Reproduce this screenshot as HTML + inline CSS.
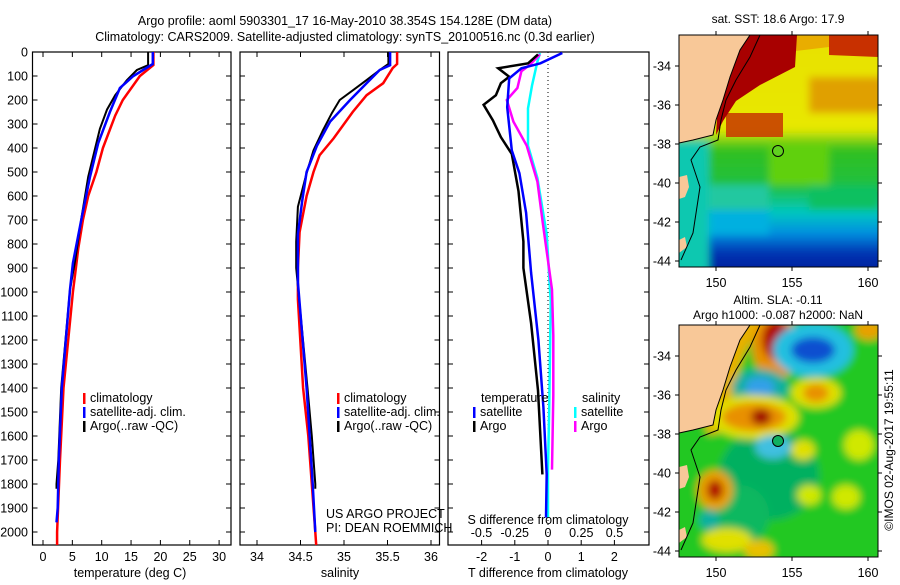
<!DOCTYPE html>
<html><head><meta charset="utf-8"><style>
html,body{margin:0;padding:0;background:#fff;}
svg text{font-family:"Liberation Sans",sans-serif;font-size:12.5px;fill:#000;}
</style></head><body>
<svg id="fig" width="900" height="580" viewBox="0 0 900 580" xmlns="http://www.w3.org/2000/svg">
<defs>
<filter id="blur" x="-20%" y="-20%" width="140%" height="140%"><feGaussianBlur stdDeviation="4"/></filter>
<clipPath id="clipTop"><rect x="679" y="35" width="199" height="232"/></clipPath>
<clipPath id="clipBot"><rect x="679" y="325" width="199" height="232"/></clipPath>
<linearGradient id="sstGrad" x1="0" y1="0" x2="0" y2="1">
<stop offset="0" stop-color="#e8e000"/><stop offset="0.40" stop-color="#e8e800"/>
<stop offset="0.48" stop-color="#30c020"/><stop offset="0.62" stop-color="#20c040"/>
<stop offset="0.72" stop-color="#00c8c0"/><stop offset="0.80" stop-color="#0090e0"/>
<stop offset="0.88" stop-color="#0030b0"/><stop offset="1" stop-color="#001890"/>
</linearGradient>
</defs>
<g>
<text x="345" y="25" text-anchor="middle">Argo profile: aoml 5903301_17 16-May-2010 38.354S 154.128E (DM data)</text>
<text x="345" y="41" text-anchor="middle">Climatology: CARS2009. Satellite-adjusted climatology: synTS_20100516.nc (0.3d earlier)</text>
</g>
<g id="panels"></g>

<text x="778" y="23" text-anchor="middle" style="font-size:12px">sat. SST: 18.6 Argo: 17.9</text>
<g clip-path="url(#clipTop)">
<g transform="translate(679,35)">
<g filter="url(#blur)">
<rect x="-10" y="-10" width="220" height="260" fill="url(#sstGrad)"/>
<rect x="-10" y="105" width="40" height="140" fill="#10c8b0"/>
<rect x="130" y="42" width="75" height="36" fill="#e0a000"/>
<rect x="90" y="110" width="60" height="40" fill="#60d010"/>
<rect x="30" y="150" width="60" height="30" fill="#20c8a0"/>
<rect x="130" y="150" width="70" height="25" fill="#10c060"/>
<rect x="30" y="175" width="60" height="25" fill="#00b0e0"/>
</g>
<polygon points="100,0 150,0 150,12 100,18" fill="#e8a000" opacity="0.8"/>
<polygon points="47,78 104,78 104,102 47,102" fill="#c84000" opacity="0.9"/>
<polygon points="50,0 118,0 116,32 81,50 57,66 44,86 37,100 40,50" fill="#a80000"/>
<polygon points="150,0 199,0 199,22 150,20" fill="#c83000"/>
<polygon points="0,0 71,0 61,15 51,42 44,65 37,85 34,100 14,105 0,108" fill="#f8c898"/>
<polygon points="0,142 8,140 10,152 6,162 0,164" fill="#f8c898"/>
<polygon points="0,205 6,202 8,212 0,218" fill="#f8c898"/>
<polyline points="81,0 71,22 57,45 47,65 42,85 39,105 21,112 12,125 21,152 14,198 2,225" fill="none" stroke="#000" stroke-width="1"/>
<polyline points="71,0 61,15 51,42 44,65 37,85 34,100 14,105 0,108" fill="none" stroke="#000" stroke-width="1"/>
</g>
</g>
<rect x="679" y="35" width="199" height="232" fill="none" stroke="#000" stroke-width="1"/>
<circle cx="778" cy="151" r="5.5" fill="#60d020" stroke="#000" stroke-width="1"/>

<text x="778" y="304" text-anchor="middle" style="font-size:12px">Altim. SLA: -0.11</text>
<text x="778" y="319" text-anchor="middle" style="font-size:12px">Argo h1000: -0.087 h2000: NaN</text>
<g clip-path="url(#clipBot)">
<g transform="translate(679,325)">
<g filter="url(#blur)">
<rect x="-10" y="-10" width="220" height="260" fill="#20c820"/>
<ellipse cx="90" cy="150" rx="50" ry="45" fill="#00b060"/>
<ellipse cx="60" cy="190" rx="30" ry="30" fill="#10b860"/>
<polygon points="55,-10 85,-10 65,30 55,60 50,90 48,105 30,110 25,100 40,60" fill="#e8b000"/>
<ellipse cx="97" cy="22" rx="24" ry="32" fill="#e89000"/>
<ellipse cx="97" cy="15" rx="14" ry="20" fill="#b00000"/>
<ellipse cx="134" cy="25" rx="40" ry="27" fill="#20c0e0"/>
<ellipse cx="134" cy="25" rx="22" ry="13" fill="#1050d0"/>
<ellipse cx="190" cy="5" rx="14" ry="10" fill="#e8a000"/>
<ellipse cx="81" cy="62" rx="28" ry="18" fill="#10b0a0"/>
<ellipse cx="81" cy="62" rx="15" ry="10" fill="#30a0e8"/>
<ellipse cx="75" cy="92" rx="45" ry="22" fill="#e0e000"/>
<ellipse cx="75" cy="92" rx="32" ry="14" fill="#e89000"/>
<ellipse cx="82" cy="92" rx="10" ry="8" fill="#a00000"/>
<ellipse cx="137" cy="68" rx="25" ry="15" fill="#e0e000"/>
<ellipse cx="137" cy="68" rx="13" ry="9" fill="#e89000"/>
<ellipse cx="94" cy="122" rx="18" ry="12" fill="#40c0e0"/>
<ellipse cx="36" cy="165" rx="18" ry="20" fill="#e8a000"/>
<ellipse cx="36" cy="165" rx="8" ry="10" fill="#b00000"/>
<ellipse cx="124" cy="125" rx="12" ry="10" fill="#e0e000"/>
<ellipse cx="167" cy="172" rx="14" ry="12" fill="#d0e800"/>
<ellipse cx="130" cy="170" rx="12" ry="10" fill="#d0e800"/>
<ellipse cx="48" cy="215" rx="25" ry="12" fill="#e0e000"/>
<ellipse cx="80" cy="225" rx="15" ry="10" fill="#e8c000"/>
<ellipse cx="180" cy="120" rx="15" ry="15" fill="#d0e800"/>
<ellipse cx="30" cy="195" rx="10" ry="10" fill="#10b0a0"/>
</g>
<polygon points="0,0 71,0 61,15 51,42 44,65 37,85 34,100 14,105 0,108" fill="#f8c898"/>
<polygon points="0,142 8,140 10,152 6,162 0,164" fill="#f8c898"/>
<polygon points="0,205 6,202 8,212 0,218" fill="#f8c898"/>
<polyline points="81,0 71,22 57,45 47,65 42,85 39,105 21,112 12,125 21,152 14,198 2,225" fill="none" stroke="#000" stroke-width="1"/>
<polyline points="71,0 61,15 51,42 44,65 37,85 34,100 14,105 0,108" fill="none" stroke="#000" stroke-width="1"/>
</g>
</g>
<rect x="679" y="325" width="199" height="232" fill="none" stroke="#000" stroke-width="1"/>
<circle cx="778" cy="441" r="5.5" fill="#10b060" stroke="#000" stroke-width="1"/>
<text transform="translate(893,450) rotate(-90)" text-anchor="middle" style="font-size:12px">©IMOS 02-Aug-2017 19:55:11</text>
<g id="mapaxes"></g>
</svg>
<script>
const depthTicks = [0,100,200,300,400,500,600,700,800,900,1000,1100,1200,1300,1400,1500,1600,1700,1800,1900,2000];
const tempTicks = [0,5,10,15,20,25,30];
const salTicks = [34,34.5,35,35.5,36];
const tdiffTicks = [-2,-1,0,1,2];
const sdiffTicks = [-0.5,-0.25,0,0.25,0.5];
const sdiffTickLabels = ["-0.5","-0.25","0","0.25","0.5"];

const tClimDepth = [0,54,100,200,265,400,500,600,700,820,920,1000,1400,1700,2000,2054];
const tClimVal   = [18.8,18.8,16.5,13.6,12.3,10.2,9.1,7.7,6.8,6.0,5.5,5.1,3.5,2.9,2.4,2.4];
const tSatDepth  = [0,50,100,150,250,380,520,690,880,990,1400,1700,1900,1960];
const tSatVal    = [18.7,18.7,15.4,13.1,11.4,9.4,8.0,6.6,5.1,4.6,3.2,2.7,2.5,2.3];
const tArgoDepth = [0,55,75,117,180,240,320,400,520,685,865,990,1400,1700,1800,1820];
const tArgoVal   = [17.9,17.9,16.0,14.3,12.3,10.9,9.7,8.9,7.7,6.6,5.5,4.6,3.1,2.6,2.3,2.3];

const sClimDepth = [0,50,67,130,180,250,360,430,500,600,750,900,1030,1400,1600,1800,2000,2054];
const sClimVal   = [35.61,35.61,35.56,35.45,35.26,35.10,34.88,34.72,34.65,34.57,34.49,34.47,34.47,34.53,34.59,34.63,34.67,34.68];
const sSatDepth  = [0,55,75,130,200,290,390,500,620,760,960,1400,1800,2000];
const sSatVal    = [35.53,35.53,35.41,35.26,35.07,34.84,34.69,34.57,34.52,34.47,34.47,34.57,34.64,34.67];
const sArgoDepth = [0,50,75,117,160,200,255,325,410,505,645,790,900,1400,1600,1800,1820];
const sArgoVal   = [35.51,35.51,35.41,35.26,35.10,34.95,34.86,34.76,34.65,34.57,34.47,34.45,34.45,34.58,34.63,34.67,34.67];

const dTSatDepth = [4,47,68,110,230,410,505,670,920,1200,1480,1760,1940];
const dTSatVal   = [0.43,-0.23,-0.8,-1.17,-1.23,-1.09,-0.86,-0.66,-0.51,-0.29,-0.14,-0.04,-0.06];
const dTArgoDepth = [10,47,68,103,130,180,220,285,355,425,580,790,900,1130,1410,1760];
const dTArgoVal   = [-0.3,-0.6,-1.5,-1.17,-1.42,-1.57,-1.94,-1.66,-1.42,-1.09,-0.89,-0.74,-0.74,-0.51,-0.3,-0.17];
const dSSatDepth = [4,40,140,235,390,525,760,1040,1460,1740,1940];
const dSSatVal   = [-0.06,-0.08,-0.12,-0.15,-0.15,-0.08,-0.01,0.02,0.01,0.0,0.0];
const dSArgoDepth = [10,55,80,150,200,290,390,540,710,990,1180,1430,1740];
const dSArgoVal   = [-0.06,-0.14,-0.2,-0.23,-0.31,-0.26,-0.16,-0.08,-0.04,0.03,0.04,0.04,0.03];

const latTicks = [-34,-36,-38,-40,-42,-44];
const lonTicks = [150,155,160];

const NS='http://www.w3.org/2000/svg';
const yD = d => 52 + d*0.24;
const xT = t => 43 + t*5.87;
const xS = s => 257 + (s-34)*87;
const xDT = t => 548 + t*33.2;
const xDS = s => 548 + s*133;
const pTop=52, pBot=545;
const root=document.getElementById('panels');
function el(tag,attrs,parent){const e=document.createElementNS(NS,tag);for(const k in attrs)e.setAttribute(k,attrs[k]);(parent||root).appendChild(e);return e;}
function txt(x,y,s,anchor,parent){const t=el('text',{x:x,y:y,'text-anchor':anchor||'start'},parent);t.textContent=s;return t;}
function stepPath(xs,ds,xf){let p='';for(let i=0;i<xs.length;i++){const X=xf(xs[i]).toFixed(1),Y=yD(ds[i]).toFixed(1);p+=(i?'L':'M')+X+','+Y;}return p;}

function panel(name,x0,x1,depthLabels){
  const g=el('g',{});
  
  
  el('rect',{x:x0,y:pTop,width:x1-x0,height:pBot-pTop,fill:'none',stroke:'#000','stroke-width':1.2},g);
  depthTicks.forEach(d=>{
    el('line',{x1:x0,x2:x0+5,y1:yD(d),y2:yD(d),stroke:'#000'},g);
    el('line',{x1:x1-5,x2:x1,y1:yD(d),y2:yD(d),stroke:'#000'},g);
    if(depthLabels){const t=txt(28,yD(d)+4.5,String(d),'end',g);
      
      }
  });
  return g;
}
function line(g,name,xs,ds,xf,color,w){
  const p=el('path',{d:stepPath(xs,ds,xf),fill:'none',stroke:color,'stroke-width':w},g);
  
  
}
function legend(g,x,y,entries){
  entries.forEach((e,i)=>{
    const r=el('rect',{x:x,y:y+i*14-9,width:2.5,height:11,fill:e[1]},g);
    
    
    const t=txt(x+7,y+i*14,e[0],'start',g);
    
    
  });
}
function lbl(t,name){}

const g1=panel('temperature-panel',32.5,231,true);
tempTicks.forEach(t=>{el('line',{x1:xT(t),x2:xT(t),y1:pBot,y2:pBot-5,stroke:'#000'},g1);el('line',{x1:xT(t),x2:xT(t),y1:pTop,y2:pTop+5,stroke:'#000'},g1);lbl(txt(xT(t),561,String(t),'middle',g1),'temperature-tick-label');});
line(g1,'temperature-climatology-line',tClimVal,tClimDepth,xT,'#ff0000',2.5);
line(g1,'temperature-argo-line',tArgoVal,tArgoDepth,xT,'#000',2);
line(g1,'temperature-satellite-line',tSatVal,tSatDepth,xT,'#0000ff',2.5);
lbl(txt(130,577,'temperature (deg C)','middle',g1),'x-axis-title');
legend(g1,83,402,[['climatology','#ff0000'],['satellite-adj. clim.','#0000ff'],['Argo(..raw -QC)','#000']]);

const g2=panel('salinity-panel',240,439.5,false);
salTicks.forEach(s=>{el('line',{x1:xS(s),x2:xS(s),y1:pBot,y2:pBot-5,stroke:'#000'},g2);el('line',{x1:xS(s),x2:xS(s),y1:pTop,y2:pTop+5,stroke:'#000'},g2);lbl(txt(xS(s),561,String(s),'middle',g2),'salinity-tick-label');});
line(g2,'salinity-climatology-line',sClimVal,sClimDepth,xS,'#ff0000',2.5);
line(g2,'salinity-argo-line',sArgoVal,sArgoDepth,xS,'#000',2);
line(g2,'salinity-satellite-line',sSatVal,sSatDepth,xS,'#0000ff',2.5);
lbl(txt(340,577,'salinity','middle',g2),'x-axis-title');
legend(g2,337,402,[['climatology','#ff0000'],['satellite-adj. clim.','#0000ff'],['Argo(..raw -QC)','#000']]);
lbl(txt(326,518,'US ARGO PROJECT','start',g2),'credit-project');
lbl(txt(326,532,'PI: DEAN ROEMMICH','start',g2),'credit-pi');

const g3=panel('difference-panel',448,649,false);
el('line',{x1:548,x2:548,y1:pTop,y2:pBot,stroke:'#000','stroke-dasharray':'1,3'},g3);
tdiffTicks.forEach(t=>{el('line',{x1:xDT(t),x2:xDT(t),y1:pBot,y2:pBot-5,stroke:'#000'},g3);lbl(txt(xDT(t),561,String(t),'middle',g3),'tdiff-tick-label');});
sdiffTicks.forEach((s,i)=>{lbl(txt(xDS(s),537,sdiffTickLabels[i],'middle',g3),'sdiff-tick-label');});
line(g3,'sdiff-satellite-line',dSSatVal,dSSatDepth,xDS,'#00ffff',2.5);
line(g3,'sdiff-argo-line',dSArgoVal,dSArgoDepth,xDS,'#ff00ff',2.5);
line(g3,'tdiff-argo-line',dTArgoVal,dTArgoDepth,xDT,'#000',2.5);
line(g3,'tdiff-satellite-line',dTSatVal,dTSatDepth,xDT,'#0000ff',2.5);
lbl(txt(548,524,'S difference from climatology','middle',g3),'s-axis-title');
lbl(txt(548,577,'T difference from climatology','middle',g3),'x-axis-title');
lbl(txt(481,402,'temperature','start',g3),'legend-title');
lbl(txt(582,402,'salinity','start',g3),'legend-title');
legend(g3,473,416,[['satellite','#0000ff'],['Argo','#000']]);
legend(g3,574,416,[['satellite','#00ffff'],['Argo','#ff00ff']]);

const ma=document.getElementById('mapaxes');
const mx = lon => 716 + (lon-150)*15.2;
const my = (lat,y0) => y0 + 31 + (-34-lat)*19.5;
[35,325].forEach(y0=>{
  latTicks.forEach(la=>{const y=my(la,y0);el('line',{x1:679,x2:675,y1:y,y2:y,stroke:'#000'},ma);el('line',{x1:878,x2:882,y1:y,y2:y,stroke:'#000'},ma);lbl(txt(671,y+4.5,String(la),'end',ma),'lat-tick-label');});
  lonTicks.forEach(lo=>{const x=mx(lo);el('line',{x1:x,x2:x,y1:y0,y2:y0-4,stroke:'#000'},ma);el('line',{x1:x,x2:x,y1:y0+232,y2:y0+236,stroke:'#000'},ma);lbl(txt(x,y0+252,String(lo),'middle',ma),'lon-tick-label');});
});
</script>
</body></html>
